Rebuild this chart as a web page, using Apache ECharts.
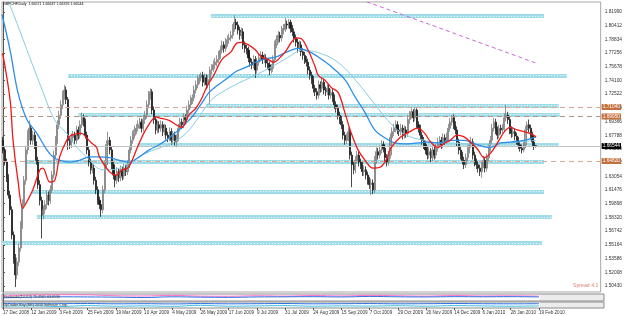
<!DOCTYPE html>
<html style="height: 100%">
<head>
<meta charset="utf-8">
<script src="https://cdn.jsdelivr.net/npm/echarts@6/dist/echarts.min.js"></script>
</head>
<body style="height: 100%; margin: 0; background: #fff">
<div id="container" style="width: 625px; height: 316px"></div>
<script type="text/javascript">
// GBPCHF daily bars, 17 Dec 2008 .. 19 Feb 2010 (bar index 0..304)
var opens = [
  1.672,1.661,1.647,1.629,1.609,1.592,1.563,1.536,1.517,1.532,
  1.548,1.574,1.598,1.626,1.661,1.678,1.686,1.672,1.678,1.667,
  1.649,1.621,1.603,1.586,1.592,1.598,1.609,1.603,1.615,1.632,
  1.655,1.672,1.690,1.701,1.713,1.724,1.730,1.719,1.672,1.667,
  1.675,1.678,1.672,1.684,1.678,1.690,1.698,1.693,1.678,1.661,
  1.647,1.638,1.640,1.626,1.615,1.603,1.598,1.592,1.615,1.644,
  1.667,1.672,1.661,1.644,1.632,1.626,1.636,1.629,1.638,1.631,
  1.640,1.636,1.644,1.661,1.672,1.678,1.684,1.686,1.690,1.693,
  1.686,1.696,1.701,1.713,1.724,1.728,1.707,1.696,1.684,1.690,
  1.686,1.690,1.682,1.686,1.678,1.675,1.682,1.672,1.678,1.670,
  1.675,1.686,1.693,1.690,1.698,1.696,1.707,1.713,1.719,1.721,
  1.730,1.736,1.742,1.744,1.747,1.739,1.744,1.736,1.742,1.753,
  1.755,1.759,1.762,1.765,1.770,1.776,1.782,1.778,1.785,1.788,
  1.790,1.793,1.801,1.808,1.805,1.799,1.793,1.797,1.782,1.778,
  1.776,1.767,1.762,1.759,1.765,1.753,1.762,1.767,1.770,1.765,
  1.767,1.761,1.759,1.753,1.755,1.765,1.782,1.788,1.793,1.790,
  1.799,1.801,1.806,1.805,1.808,1.801,1.797,1.790,1.785,1.778,
  1.782,1.774,1.770,1.765,1.762,1.753,1.747,1.742,1.732,1.728,
  1.724,1.736,1.732,1.739,1.730,1.728,1.732,1.724,1.727,1.721,
  1.713,1.709,1.701,1.696,1.690,1.678,1.672,1.675,1.682,1.655,
  1.644,1.638,1.649,1.655,1.647,1.644,1.636,1.638,1.632,1.626,
  1.621,1.623,1.615,1.649,1.659,1.655,1.661,1.667,1.663,1.652,
  1.647,1.655,1.675,1.682,1.686,1.690,1.684,1.682,1.686,1.678,
  1.684,1.680,1.696,1.701,1.705,1.698,1.707,1.690,1.686,1.678,
  1.672,1.667,1.661,1.655,1.659,1.652,1.661,1.655,1.663,1.670,
  1.672,1.667,1.675,1.672,1.676,1.686,1.693,1.698,1.690,1.684,
  1.670,1.661,1.655,1.649,1.644,1.652,1.661,1.667,1.670,1.655,
  1.647,1.644,1.640,1.636,1.644,1.649,1.640,1.652,1.663,1.672,
  1.686,1.693,1.684,1.678,1.686,1.684,1.687,1.698,1.701,1.696,
  1.684,1.680,1.682,1.677,1.672,1.667,1.663,1.661,1.667,1.684,
  1.690,1.686,1.678,1.670,1.66571
];
var closes = [
  1.661,1.647,1.629,1.609,1.592,1.563,1.536,1.517,1.532,1.548,
  1.574,1.598,1.626,1.661,1.678,1.686,1.672,1.678,1.667,1.649,
  1.621,1.603,1.586,1.592,1.598,1.609,1.603,1.615,1.632,1.655,
  1.672,1.690,1.701,1.713,1.724,1.730,1.719,1.672,1.667,1.675,
  1.678,1.672,1.684,1.678,1.690,1.698,1.693,1.678,1.661,1.647,
  1.638,1.640,1.626,1.615,1.603,1.598,1.592,1.615,1.644,1.667,
  1.672,1.661,1.644,1.632,1.626,1.636,1.629,1.638,1.631,1.640,
  1.636,1.644,1.661,1.672,1.678,1.684,1.686,1.690,1.693,1.686,
  1.696,1.701,1.713,1.724,1.728,1.707,1.696,1.684,1.690,1.686,
  1.690,1.682,1.686,1.678,1.675,1.682,1.672,1.678,1.670,1.675,
  1.686,1.693,1.690,1.698,1.696,1.707,1.713,1.719,1.721,1.730,
  1.736,1.742,1.744,1.747,1.739,1.744,1.736,1.742,1.753,1.755,
  1.759,1.762,1.765,1.770,1.776,1.782,1.778,1.785,1.788,1.790,
  1.793,1.801,1.808,1.805,1.799,1.793,1.797,1.782,1.778,1.776,
  1.767,1.762,1.759,1.765,1.753,1.762,1.767,1.770,1.765,1.767,
  1.761,1.759,1.753,1.755,1.765,1.782,1.788,1.793,1.790,1.799,
  1.801,1.806,1.805,1.808,1.801,1.797,1.790,1.785,1.778,1.782,
  1.774,1.770,1.765,1.762,1.753,1.747,1.742,1.732,1.728,1.724,
  1.736,1.732,1.739,1.730,1.728,1.732,1.724,1.727,1.721,1.713,
  1.709,1.701,1.696,1.690,1.678,1.672,1.675,1.682,1.655,1.644,
  1.638,1.649,1.655,1.647,1.644,1.636,1.638,1.632,1.626,1.621,
  1.623,1.615,1.649,1.659,1.655,1.661,1.667,1.663,1.652,1.647,
  1.655,1.675,1.682,1.686,1.690,1.684,1.682,1.686,1.678,1.684,
  1.680,1.696,1.701,1.705,1.698,1.707,1.690,1.686,1.678,1.672,
  1.667,1.661,1.655,1.659,1.652,1.661,1.655,1.663,1.670,1.672,
  1.667,1.675,1.672,1.676,1.686,1.693,1.698,1.690,1.684,1.670,
  1.661,1.655,1.649,1.644,1.652,1.661,1.667,1.670,1.655,1.647,
  1.644,1.640,1.636,1.644,1.649,1.640,1.652,1.663,1.672,1.686,
  1.693,1.684,1.678,1.686,1.684,1.687,1.698,1.701,1.696,1.684,
  1.680,1.682,1.677,1.672,1.667,1.663,1.661,1.667,1.684,1.690,
  1.686,1.678,1.670,1.6657,1.66544
];
var lows = [
  1.657,1.643,1.624,1.605,1.586,1.558,1.530,1.503,1.512,1.527,
  1.544,1.570,1.593,1.621,1.656,1.672,1.667,1.667,1.662,1.644,
  1.616,1.597,1.559,1.581,1.587,1.593,1.597,1.599,1.611,1.628,
  1.650,1.668,1.685,1.697,1.708,1.719,1.714,1.661,1.662,1.663,
  1.670,1.667,1.668,1.673,1.674,1.686,1.688,1.674,1.656,1.642,
  1.633,1.634,1.621,1.610,1.598,1.593,1.584,1.588,1.611,1.640,
  1.662,1.656,1.639,1.627,1.618,1.622,1.624,1.625,1.626,1.627,
  1.631,1.632,1.640,1.657,1.668,1.674,1.679,1.682,1.685,1.681,
  1.682,1.691,1.697,1.709,1.719,1.702,1.691,1.679,1.680,1.681,
  1.682,1.677,1.678,1.673,1.670,1.671,1.667,1.668,1.666,1.664,
  1.671,1.682,1.685,1.686,1.691,1.692,1.703,1.709,1.714,1.717,
  1.726,1.732,1.737,1.740,1.734,1.735,1.731,1.732,1.713,1.748,
  1.751,1.754,1.757,1.761,1.766,1.772,1.773,1.774,1.780,1.783,
  1.786,1.789,1.797,1.800,1.794,1.788,1.789,1.777,1.773,1.771,
  1.762,1.757,1.754,1.755,1.744,1.749,1.758,1.763,1.760,1.761,
  1.756,1.754,1.747,1.749,1.751,1.761,1.778,1.784,1.785,1.786,
  1.794,1.797,1.800,1.801,1.796,1.792,1.785,1.780,1.773,1.774,
  1.769,1.765,1.760,1.757,1.748,1.742,1.737,1.727,1.723,1.719,
  1.720,1.727,1.728,1.725,1.723,1.724,1.719,1.720,1.716,1.708,
  1.704,1.696,1.691,1.685,1.673,1.667,1.668,1.671,1.650,1.618,
  1.633,1.634,1.645,1.642,1.639,1.631,1.631,1.627,1.621,1.616,
  1.609,1.610,1.611,1.645,1.650,1.651,1.657,1.658,1.647,1.642,
  1.643,1.651,1.671,1.677,1.681,1.679,1.677,1.678,1.673,1.674,
  1.675,1.676,1.691,1.697,1.693,1.694,1.685,1.681,1.673,1.667,
  1.662,1.656,1.650,1.651,1.647,1.648,1.650,1.651,1.659,1.665,
  1.662,1.663,1.667,1.668,1.672,1.682,1.689,1.685,1.679,1.665,
  1.656,1.650,1.644,1.639,1.640,1.648,1.657,1.663,1.650,1.642,
  1.639,1.635,1.631,1.629,1.640,1.635,1.636,1.648,1.659,1.668,
  1.682,1.679,1.673,1.674,1.679,1.680,1.683,1.694,1.691,1.679,
  1.675,1.676,1.672,1.667,1.662,1.659,1.657,1.658,1.663,1.680,
  1.681,1.673,1.665,1.661,1.66376
];
var highs = [
  1.676,1.664,1.651,1.633,1.614,1.596,1.567,1.541,1.537,1.553,
  1.579,1.604,1.631,1.666,1.684,1.695,1.690,1.683,1.682,1.671,
  1.653,1.626,1.607,1.597,1.603,1.614,1.613,1.620,1.637,1.660,
  1.677,1.695,1.706,1.718,1.729,1.736,1.734,1.722,1.677,1.680,
  1.683,1.682,1.689,1.688,1.695,1.704,1.702,1.697,1.682,1.665,
  1.651,1.645,1.644,1.630,1.619,1.607,1.602,1.620,1.649,1.672,
  1.682,1.676,1.665,1.648,1.636,1.641,1.640,1.643,1.642,1.645,
  1.644,1.649,1.666,1.677,1.683,1.689,1.691,1.695,1.698,1.697,
  1.701,1.706,1.718,1.729,1.732,1.731,1.711,1.700,1.695,1.694,
  1.695,1.694,1.691,1.690,1.682,1.687,1.686,1.683,1.682,1.679,
  1.691,1.698,1.697,1.703,1.702,1.712,1.718,1.724,1.725,1.735,
  1.741,1.747,1.748,1.750,1.751,1.749,1.748,1.747,1.757,1.760,
  1.764,1.767,1.770,1.775,1.781,1.787,1.786,1.790,1.793,1.795,
  1.798,1.806,1.816,1.812,1.809,1.803,1.802,1.801,1.786,1.782,
  1.780,1.771,1.766,1.770,1.769,1.767,1.772,1.775,1.774,1.772,
  1.771,1.765,1.763,1.760,1.770,1.787,1.793,1.798,1.797,1.804,
  1.806,1.813,1.810,1.812,1.811,1.805,1.801,1.794,1.789,1.787,
  1.786,1.778,1.774,1.769,1.766,1.757,1.751,1.746,1.736,1.732,
  1.741,1.740,1.744,1.743,1.734,1.737,1.736,1.731,1.731,1.725,
  1.717,1.713,1.705,1.700,1.694,1.682,1.680,1.687,1.686,1.659,
  1.648,1.654,1.660,1.659,1.651,1.648,1.643,1.642,1.636,1.630,
  1.628,1.627,1.654,1.664,1.663,1.666,1.672,1.671,1.667,1.656,
  1.660,1.680,1.687,1.691,1.695,1.694,1.688,1.691,1.690,1.689,
  1.688,1.701,1.706,1.709,1.708,1.710,1.709,1.694,1.690,1.682,
  1.676,1.671,1.665,1.664,1.663,1.666,1.665,1.668,1.675,1.677,
  1.676,1.680,1.679,1.681,1.691,1.698,1.701,1.702,1.694,1.688,
  1.674,1.665,1.659,1.653,1.657,1.666,1.671,1.676,1.674,1.659,
  1.651,1.648,1.644,1.648,1.654,1.653,1.657,1.668,1.677,1.691,
  1.698,1.697,1.688,1.690,1.690,1.691,1.703,1.713,1.705,1.700,
  1.688,1.687,1.686,1.681,1.676,1.671,1.667,1.672,1.689,1.694,
  1.696,1.690,1.682,1.674,1.66637
];

// moving averages: [bar index, price]
var redMA = [[-0.6,1.772],[0,1.770],[4,1.719],[5.7,1.672],[8.5,1.626],[11.3,1.594],[14,1.603],[17,1.615],[21,1.638],[22.7,1.640],
  [26.7,1.624],[29.5,1.626],[32.3,1.653],[36.3,1.672],[39,1.678],[44.8,1.680],[47.6,1.675],[50.5,1.669],[53.3,1.664],[55,1.653],
  [60.7,1.636],[64.7,1.632],[68,1.638],[71,1.640],[73,1.646],[77.7,1.669],[82.2,1.687],[87.4,1.699],[89,1.698],[94.7,1.695],
  [98.7,1.690],[102,1.687],[106,1.701],[110,1.709],[113,1.719],[116.3,1.734],[120.2,1.747],[124.8,1.765],[130,1.774],[133.3,1.784],
  [136,1.785],[140,1.782],[144,1.776],[147.5,1.768],[151.4,1.765],[154.3,1.762],[158.3,1.768],[161.7,1.776],[164.5,1.785],[167.3,1.790],
  [170.2,1.789],[174,1.776],[178,1.757],[179.8,1.747],[183.8,1.741],[187.2,1.733],[191.2,1.727],[195,1.704],[198.5,1.681],[202.5,1.661],
  [206.5,1.649],[211,1.640],[215,1.641],[218.4,1.649],[221.2,1.663],[226.3,1.675],[232,1.682],[236.5,1.686],[240.5,1.680],[244,1.670],
  [248,1.664],[252,1.669],[255,1.672],[259,1.678],[263,1.676],[266.6,1.670],[270.6,1.662],[274.5,1.652],[278,1.657],[282,1.669],
  [286,1.682],[289.3,1.687],[293.3,1.684],[297.2,1.682],[300.6,1.680],[304,1.676]];
var blueMA = [[-0.6,1.817],[4,1.776],[8.5,1.727],[13.6,1.696],[19.3,1.680],[25,1.661],[28.4,1.653],[32.3,1.649],[38,1.647],[43.7,1.649],
  [49.3,1.653],[55,1.653],[60.7,1.652],[66.4,1.649],[72,1.647],[77.7,1.653],[83.4,1.661],[89,1.667],[93,1.672],[96.4,1.678],
  [100.4,1.684],[104.4,1.692],[107.8,1.699],[113.4,1.715],[117.4,1.727],[121.4,1.734],[127,1.742],[132.7,1.751],[138.4,1.756],[144,1.762],
  [149.7,1.766],[155.4,1.768],[161,1.773],[164.5,1.776],[168.5,1.778],[172.4,1.776],[175.8,1.773],[179.8,1.768],[187.2,1.757],[195,1.742],
  [200.8,1.722],[206.5,1.704],[212,1.684],[217.8,1.675],[223.5,1.669],[229,1.668],[236.5,1.669],[242,1.670],[249.6,1.669],[255,1.672],
  [263,1.672],[270.6,1.667],[276.2,1.664],[280.2,1.665],[283.6,1.669],[289.3,1.670],[297.2,1.672],[304,1.676]];
var cyanMA = [[1,1.845],[2.8,1.834],[9.6,1.798],[17,1.758],[22.7,1.728],[26.7,1.707],[30.6,1.692],[36.3,1.680],[42,1.664],[47.6,1.653],
  [53.3,1.641],[56.7,1.638],[60.7,1.638],[66.4,1.640],[72,1.646],[77.7,1.653],[83.4,1.659],[89,1.663],[96.4,1.669],[104.4,1.680],
  [111.7,1.699],[119,1.719],[127,1.730],[134.4,1.738],[141.8,1.745],[149.7,1.753],[157,1.761],[164.5,1.770],[170.2,1.776],[175.8,1.775],
  [179.8,1.773],[187.2,1.767],[195,1.755],[202.5,1.738],[210,1.719],[217.8,1.699],[225,1.684],[232.5,1.676],[240.5,1.672],[248,1.669],
  [255,1.669],[263,1.668],[270.6,1.667],[282,1.668],[293.3,1.670],[304,1.672]];
var purpleMA = [[200,1.837],[240,1.808],[270,1.786],[304,1.761]];

// support / resistance bands: [from bar, to bar, price]
var bands = [[118.5,308.6,1.8153],[37,321.6,1.7467],[115.7,317,1.7122],[43,317.6,1.7018],[76.6,317,1.6667],
  [12.5,308.6,1.6477],[16.4,308.6,1.6131],[19.3,313,1.5837],[-0.6,307.4,1.5538]];
var dashLevels = [1.7104, 1.6995, 1.6482];
var bidPrice = 1.66544;

var priceTicks = [1.81990,1.80412,1.78834,1.77256,1.75678,1.74100,1.72522,1.70944,1.69366,1.67788,1.66210,
  1.64632,1.63054,1.61476,1.59898,1.58320,1.56742,1.55164,1.53586,1.52008,1.50430];
var dateBars = [0,16,32,48,64,80,96,112,128,144,160,176,192,208,224,240,256,272,288,304];
var dateLabels = ['17 Dec 2008','12 Jan 2009','3 Feb 2009','25 Feb 2009','19 Mar 2009','10 Apr 2009','4 May 2009',
  '26 May 2009','17 Jun 2009','9 Jul 2009','31 Jul 2009','24 Aug 2009','15 Sep 2009','7 Oct 2009','29 Oct 2009',
  '20 Nov 2009','14 Dec 2009','6 Jan 2010','28 Jan 2010','19 Feb 2010'];

// lower indicator windows, sampled at dateBars
var oscPink = [70,85,90,88,75,72,80,70,68,75,70,78,72,80,75,70,78,72,74,70];
var oscBlue = [45,55,60,58,55,50,60,55,52,58,60,62,58,65,60,58,62,60,62,58];
var osc2Blue = [75,70,72,75,70,72,68,74,70,72,75,70,72,74,70,72,75,72,70,72];
var osc2Cyan = [30,35,25,40,30,35,28,45,30,35,40,30,35,32,38,30,40,35,30,35];

var FONT = 'Liberation Sans';
var xMin = -0.6, xMax = 340.9;

var candles = closes.map(function (c, i) { return [i, opens[i], c, lows[i], highs[i]]; });
function zipBars(vals) { return vals.map(function (v, i) { return [dateBars[i], v]; }); }
var bandData = bands.map(function (b) { return {coords: [[b[0], b[2]], [b[1], b[2]]]}; });

var chart = echarts.init(document.getElementById('container'));

function hiddenX(gi) {
    return {type: 'value', gridIndex: gi, min: xMin, max: xMax, axisLine: {show: false},
        axisTick: {show: false}, axisLabel: {show: false}, splitLine: {show: false}};
}
function panelY(gi) {
    return {type: 'value', gridIndex: gi, position: 'right', min: 0, max: 100,
        axisLine: {show: true, lineStyle: {color: '#555', width: 1}}, axisTick: {show: false},
        axisLabel: {show: false}, splitLine: {show: false}};
}

var dashMarks = dashLevels.map(function (v, k) {
    return {yAxis: v, lineStyle: {color: k === 1 ? '#b8927e' : '#d9a88e', type: [5, 4], width: 1},
        label: {backgroundColor: '#c4703e'}};
});
dashMarks.push({yAxis: bidPrice, lineStyle: {color: '#c4c4c4', type: 'solid', width: 1},
    label: {backgroundColor: '#000'}});

var option = {
    animation: false,
    backgroundColor: '#fff',
    title: [
        {text: 'GBPCHF,Daily  1.66571 1.66637 1.66376 1.66544', left: 3, top: 2, padding: 0,
            textStyle: {fontSize: 3.6, fontWeight: 'normal', color: '#000', fontFamily: FONT}},
        {text: 'Spread 4.1', left: 573, top: 283, padding: 0,
            textStyle: {fontSize: 5.2, fontWeight: 'normal', color: '#d9826b', fontFamily: FONT}},
        {text: 'Stochastic(14,3,3) 70.4561 63.8130', left: 3, top: 295, padding: 0,
            textStyle: {fontSize: 3.6, fontWeight: 'normal', color: '#333', fontFamily: FONT}},
        {text: 'TipTrader Buy (SR) 2010 Software Corp.', left: 3, top: 302.5, padding: 0,
            textStyle: {fontSize: 3.6, fontWeight: 'normal', color: '#333', fontFamily: FONT}}
    ],
    graphic: [
        {type: 'rect', shape: {x: 540, y: 294, width: 64, height: 7}, style: {fill: '#ececec'}, z: -1},
        {type: 'rect', shape: {x: 540, y: 302, width: 64, height: 6}, style: {fill: '#ececec'}, z: -1}
    ],
    grid: [
        {left: 2, top: 2, width: 602, height: 290, show: true, borderColor: '#a8a8a8', borderWidth: 1},
        {left: 2, top: 294, width: 602, height: 7, show: true, borderColor: '#8c8c8c', borderWidth: 1},
        {left: 2, top: 302, width: 602, height: 6, show: true, borderColor: '#8c8c8c', borderWidth: 1}
    ],
    xAxis: [
        hiddenX(0), hiddenX(1),
        {type: 'value', gridIndex: 2, min: xMin, max: xMax, splitLine: {show: false},
            axisLine: {show: false},
            axisTick: {show: true, customValues: dateBars, length: 2, inside: false, lineStyle: {color: '#555'}},
            axisLabel: {show: true, customValues: dateBars, margin: 2, align: 'left', fontSize: 4.6,
                fontFamily: FONT, color: '#333',
                formatter: function (v) { return dateLabels[dateBars.indexOf(Math.round(v))] || ''; }}}
    ],
    yAxis: [
        {type: 'value', gridIndex: 0, position: 'right', min: 1.4973, max: 1.8314, scale: true,
            splitLine: {show: false},
            axisLine: {show: true, lineStyle: {color: '#555', width: 1}},
            axisTick: {show: true, customValues: priceTicks, length: 2, lineStyle: {color: '#555'}},
            axisLabel: {show: true, customValues: priceTicks, margin: 4, fontSize: 4.8, fontFamily: FONT,
                color: '#333', formatter: function (v) { return v.toFixed(5); }}},
        panelY(1), panelY(2)
    ],
    series: [
        {type: 'lines', coordinateSystem: 'cartesian2d', xAxisIndex: 0, yAxisIndex: 0, silent: true, z: 1,
            data: bandData, lineStyle: {color: '#9fdce7', width: 4, opacity: 1}},
        {type: 'lines', coordinateSystem: 'cartesian2d', xAxisIndex: 0, yAxisIndex: 0, silent: true, z: 1,
            data: bandData, lineStyle: {color: '#ffffff', width: 1, type: [1, 2], opacity: 0.9}},
        {type: 'candlestick', xAxisIndex: 0, yAxisIndex: 0, z: 3, barWidth: 1.6,
            encode: {x: 0, y: [1, 2, 3, 4]},
            data: candles,
            itemStyle: {color: '#a2a2a2', color0: '#1a1a1a', borderColor: '#7c7c7c', borderColor0: '#1a1a1a', borderWidth: 0.8},
            markLine: {symbol: 'none', silent: true, animation: false, precision: 5,
                label: {position: 'end', distance: 1, fontSize: 4.8, fontFamily: FONT, color: '#fff',
                    padding: [1, 1, 0, 1], formatter: function (p) { return Number(p.value).toFixed(5); }},
                data: dashMarks}},
        {type: 'line', name: 'cyan', xAxisIndex: 0, yAxisIndex: 0, data: cyanMA, showSymbol: false, smooth: 0.35,
            lineStyle: {color: '#86cde0', width: 1}, z: 4},
        {type: 'line', name: 'blue', xAxisIndex: 0, yAxisIndex: 0, data: blueMA, showSymbol: false, smooth: 0.35,
            lineStyle: {color: '#2a8fe8', width: 1.3}, z: 5},
        {type: 'line', name: 'red', xAxisIndex: 0, yAxisIndex: 0, data: redMA, showSymbol: false, smooth: 0.35,
            lineStyle: {color: '#f01818', width: 1.3}, z: 6},
        {type: 'line', name: 'purple', xAxisIndex: 0, yAxisIndex: 0, data: purpleMA, showSymbol: false, smooth: 0.3,
            lineStyle: {color: '#cc66d6', width: 1, type: [4, 3]}, z: 4},
        {type: 'line', xAxisIndex: 1, yAxisIndex: 1, data: zipBars(oscPink), showSymbol: false, smooth: 0.4,
            lineStyle: {color: '#ff6ec7', width: 1}},
        {type: 'line', xAxisIndex: 1, yAxisIndex: 1, data: zipBars(oscBlue), showSymbol: false, smooth: 0.4,
            lineStyle: {color: '#2f6fe0', width: 1}},
        {type: 'line', xAxisIndex: 2, yAxisIndex: 2, data: zipBars(osc2Blue), showSymbol: false, smooth: 0.4,
            lineStyle: {color: '#2f6fe0', width: 1}},
        {type: 'line', xAxisIndex: 2, yAxisIndex: 2, data: zipBars(osc2Cyan), showSymbol: false, smooth: 0.4,
            lineStyle: {color: '#3cc0e6', width: 1}}
    ]
};

chart.setOption(option);
</script>
</body>
</html>
